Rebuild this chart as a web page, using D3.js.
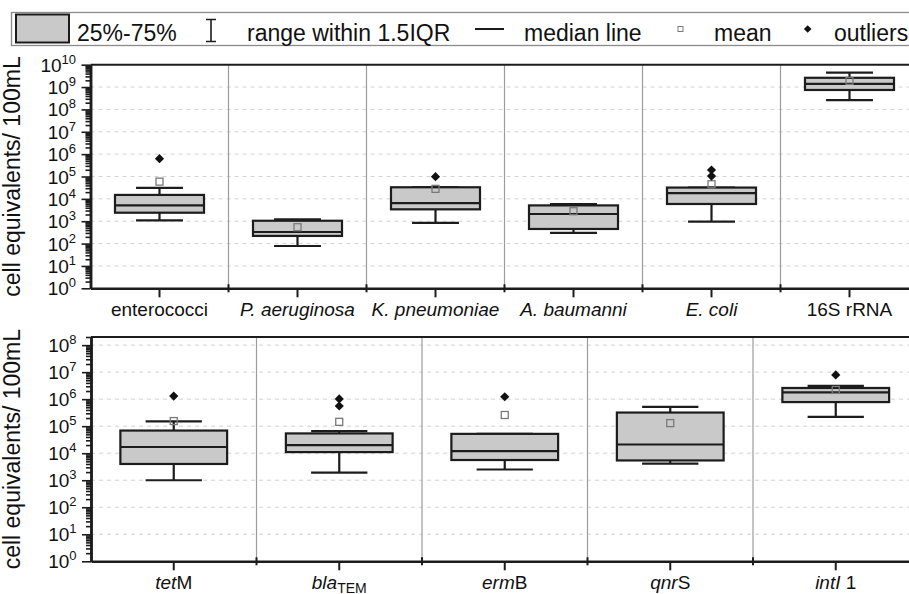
<!DOCTYPE html>
<html>
<head>
<meta charset="utf-8">
<script src="https://cdn.jsdelivr.net/npm/d3@7"></script>
<style>
  body { margin: 0; background: #fff; }
  svg { display: block; font-family: "Liberation Sans", Arial, sans-serif; }
</style>
</head>
<body>
<script>
// ---- data ----
var topCats    = ["enterococci", "P. aeruginosa", "K. pneumoniae", "A. baumanni", "E. coli", "16S rRNA"];
var topItalic  = ["", "P. aeruginosa", "K. pneumoniae", "A. baumanni", "E. coli", ""];
var topWhiskLo = [1.1e3, 78, 850, 300, 950, 2.6e8];
var topQ1      = [2.4e3, 220, 3.4e3, 450, 5.9e3, 7.4e8];
var topMedian  = [5.1e3, 330, 6.5e3, 2.1e3, 1.8e4, 1.4e9];
var topQ3      = [1.5e4, 1.05e3, 3.3e4, 5.1e3, 3.2e4, 2.6e9];
var topWhiskHi = [3.1e4, 1.2e3, 3.3e4, 5.9e3, 3.2e4, 4.4e9];
var topMean    = [5.9e4, 540, 2.8e4, 2.8e3, 4.5e4, 1.9e9];
var topOutliers = [[6.3e5], [], [9.8e4], [], [1.05e5, 1.95e5], []];
var topYMax = 1e10;

var botCats    = ["tetM", "blaTEM", "ermB", "qnrS", "intI 1"];
var botItalic  = ["tet", "bla", "erm", "qnr", "intI"];
var botSub     = ["", "TEM", "", "", ""];
var botWhiskLo = [1.0e3, 1.9e3, 2.5e3, 4.1e3, 2.2e5];
var botQ1      = [4.0e3, 1.1e4, 5.6e3, 5.4e3, 7.8e5];
var botMedian  = [1.7e4, 2.0e4, 1.2e4, 2.1e4, 1.8e6];
var botQ3      = [6.9e4, 5.4e4, 5.2e4, 3.2e5, 2.6e6];
var botWhiskHi = [1.5e5, 6.6e4, 5.2e4, 5.2e5, 3.1e6];
var botMean    = [1.55e5, 1.45e5, 2.6e5, 1.3e5, 2.2e6];
var botOutliers = [[1.3e6], [5.6e5, 1.02e6], [1.23e6], [], [7.9e6]];
var botYMax = 2e8;

var yTitle = "cell equivalents/ 100mL";
var legendItems = ["25%-75%", "range within 1.5IQR", "median line", "mean", "outliers"];

var width = 909, height = 594;
var boxFill = "#c9c9c9", ink = "#1c1c1c";

var svg = d3.select("body").append("svg")
    .attr("width", width)
    .attr("height", height);

drawLegend();

drawPanel({
    cats: topCats, italic: topItalic, sub: null,
    lo: topWhiskLo, q1: topQ1, med: topMedian, q3: topQ3, hi: topWhiskHi,
    mean: topMean, outliers: topOutliers, ymax: topYMax,
    left: 90.5, right: 918.5, top: 64.7, bottom: 288.3
});

drawPanel({
    cats: botCats, italic: botItalic, sub: botSub,
    lo: botWhiskLo, q1: botQ1, med: botMedian, q3: botQ3, hi: botWhiskHi,
    mean: botMean, outliers: botOutliers, ymax: botYMax,
    left: 91, right: 918.5, top: 337, bottom: 561.3
});

function diamond(cx, cy, r) {
    return "M" + cx + "," + (cy - r) + "L" + (cx + r) + "," + cy +
           "L" + cx + "," + (cy + r) + "L" + (cx - r) + "," + cy + "Z";
}

function drawPanel(p) {
    var g = svg.append("g");

    var x = d3.scaleBand()
        .domain(p.cats)
        .range([p.left, p.right])
        .padding(0);

    var y = d3.scaleLog()
        .domain([1, p.ymax])
        .range([p.bottom, p.top]);

    var topExp = Math.floor(Math.log10(p.ymax));
    var decades = d3.range(0, topExp + 1).map(function (e) { return Math.pow(10, e); });
    var minors = [];
    decades.forEach(function (d) {
        for (var k = 2; k <= 9; k++) {
            if (d * k <= p.ymax) minors.push(d * k);
        }
    });

    // dashed grid
    g.selectAll(".grid")
        .data(decades.filter(function (d) { return d > 1 && d < p.ymax; }))
        .enter().append("line")
        .attr("x1", p.left).attr("x2", p.right)
        .attr("y1", function (d) { return y(d); })
        .attr("y2", function (d) { return y(d); })
        .attr("stroke", "#d2d2d2")
        .attr("stroke-width", 1)
        .attr("stroke-dasharray", "4,4");

    // category separators
    var bounds = x.domain().slice(1).map(function (c) { return x(c); });
    g.selectAll(".sep")
        .data(bounds)
        .enter().append("line")
        .attr("x1", function (d) { return d; }).attr("x2", function (d) { return d; })
        .attr("y1", p.top).attr("y2", p.bottom)
        .attr("stroke", "#9c9c9c")
        .attr("stroke-width", 1.2);

    // top frame line
    g.append("line")
        .attr("x1", p.left).attr("x2", p.right)
        .attr("y1", p.top).attr("y2", p.top)
        .attr("stroke", ink).attr("stroke-width", 2);

    // y axis: majors, minors
    var yMajor = g.append("g")
        .attr("transform", "translate(" + p.left + ",0)")
        .call(d3.axisLeft(y).tickValues(decades).tickSize(9).tickSizeOuter(0).tickFormat(""));
    var yMinor = g.append("g")
        .attr("transform", "translate(" + p.left + ",0)")
        .call(d3.axisLeft(y).tickValues(minors).tickSize(5).tickSizeOuter(0).tickFormat(""));
    [yMajor, yMinor].forEach(function (a) {
        a.select(".domain").attr("stroke", ink).attr("stroke-width", 2.5);
        a.selectAll(".tick line").attr("stroke", ink).attr("stroke-width", 1.6);
    });

    var ylab = g.selectAll(".ylab")
        .data(decades)
        .enter().append("text")
        .attr("x", p.left - 14.5)
        .attr("y", function (d) { return y(d) + 7; })
        .attr("text-anchor", "end")
        .attr("font-size", 19)
        .attr("fill", "#111");
    ylab.append("tspan").text("10");
    ylab.append("tspan")
        .attr("dy", -8)
        .attr("font-size", 13)
        .text(function (d) { return Math.round(Math.log10(d)); });

    // y title
    g.append("text")
        .attr("transform", "translate(19.5," + ((p.top + p.bottom) / 2) + ") rotate(-90)")
        .attr("text-anchor", "middle")
        .attr("font-size", 23)
        .attr("fill", "#111")
        .text(yTitle);

    // x axis
    var xAxis = g.append("g")
        .attr("transform", "translate(0," + p.bottom + ")")
        .call(d3.axisBottom(x).tickSize(9).tickSizeOuter(0).tickFormat(""));
    xAxis.select(".domain").attr("stroke", ink).attr("stroke-width", 2.5);
    xAxis.selectAll(".tick line").attr("stroke", ink).attr("stroke-width", 2);

    g.selectAll(".bTick")
        .data(bounds)
        .enter().append("line")
        .attr("x1", function (d) { return d; }).attr("x2", function (d) { return d; })
        .attr("y1", p.bottom - 4).attr("y2", p.bottom + 4)
        .attr("stroke", ink).attr("stroke-width", 2);

    var xlab = g.selectAll(".xlab")
        .data(p.cats)
        .enter().append("text")
        .attr("x", function (d) { return x(d) + x.bandwidth() / 2; })
        .attr("y", p.bottom + 28)
        .attr("text-anchor", "middle")
        .attr("font-size", 19)
        .attr("fill", "#111");
    xlab.each(function (d, i) {
        var t = d3.select(this);
        var it = p.italic[i];
        var rest = it ? d.slice(it.length) : d;
        if (it) t.append("tspan").attr("font-style", "italic").text(it);
        if (rest) {
            var sp = t.append("tspan").text(rest);
            if (p.sub && p.sub[i]) sp.attr("font-size", 14).attr("dy", 4);
        }
    });

    // boxes
    var bw = x.bandwidth();
    var boxW = bw * 0.645, capW = bw * 0.34;
    var boxes = g.selectAll(".box")
        .data(p.cats)
        .enter().append("g")
        .attr("transform", function (d) { return "translate(" + (x(d) + bw / 2) + ",0)"; });

    boxes.append("line")
        .attr("x1", 0).attr("x2", 0)
        .attr("y1", function (d, i) { return y(p.lo[i]); })
        .attr("y2", function (d, i) { return y(p.hi[i]); })
        .attr("stroke", ink).attr("stroke-width", 2.2);
    boxes.append("line")
        .attr("x1", -capW / 2).attr("x2", capW / 2)
        .attr("y1", function (d, i) { return y(p.lo[i]); })
        .attr("y2", function (d, i) { return y(p.lo[i]); })
        .attr("stroke", ink).attr("stroke-width", 2.2);
    boxes.append("line")
        .attr("x1", -capW / 2).attr("x2", capW / 2)
        .attr("y1", function (d, i) { return y(p.hi[i]); })
        .attr("y2", function (d, i) { return y(p.hi[i]); })
        .attr("stroke", ink).attr("stroke-width", 2.2);

    boxes.append("rect")
        .attr("x", -boxW / 2)
        .attr("width", boxW)
        .attr("y", function (d, i) { return y(p.q3[i]); })
        .attr("height", function (d, i) { return y(p.q1[i]) - y(p.q3[i]); })
        .attr("fill", boxFill)
        .attr("stroke", ink).attr("stroke-width", 2.2);

    boxes.append("line")
        .attr("x1", -boxW / 2).attr("x2", boxW / 2)
        .attr("y1", function (d, i) { return y(p.med[i]); })
        .attr("y2", function (d, i) { return y(p.med[i]); })
        .attr("stroke", ink).attr("stroke-width", 2.2);

    boxes.append("rect")
        .attr("x", -3.5).attr("width", 7).attr("height", 7)
        .attr("y", function (d, i) { return y(p.mean[i]) - 3.5; })
        .attr("fill", "none")
        .attr("stroke", "#7a7a7a").attr("stroke-width", 1.3);

    boxes.each(function (d, i) {
        d3.select(this).selectAll(".out")
            .data(p.outliers[i])
            .enter().append("path")
            .attr("d", function (v) { return diamond(0, y(v), 4.6); })
            .attr("fill", "#111");
    });
}

function drawLegend() {
    var g = svg.append("g");
    g.append("rect")
        .attr("x", 11.5).attr("y", 12.5)
        .attr("width", 920).attr("height", 33)
        .attr("fill", "#fff")
        .attr("stroke", "#8a8a8a").attr("stroke-width", 1.3);

    g.append("rect")
        .attr("x", 16).attr("y", 14.5)
        .attr("width", 53).attr("height", 28)
        .attr("fill", boxFill)
        .attr("stroke", ink).attr("stroke-width", 2);

    // whisker icon
    g.append("path")
        .attr("d", "M206,19.5H216M211,19.5V41.5M206,41.5H216")
        .attr("fill", "none").attr("stroke", ink).attr("stroke-width", 1.6);

    // median icon
    g.append("line")
        .attr("x1", 475).attr("x2", 504).attr("y1", 29).attr("y2", 29)
        .attr("stroke", ink).attr("stroke-width", 2);

    // mean icon
    g.append("rect")
        .attr("x", 678).attr("y", 26.5).attr("width", 5).attr("height", 5)
        .attr("fill", "none").attr("stroke", "#7a7a7a").attr("stroke-width", 1);

    // outlier icon
    g.append("path")
        .attr("d", diamond(807.7, 29, 3.8))
        .attr("fill", "#111");

    var textX = [77, 247, 524, 714, 834];
    g.selectAll(".ltext")
        .data(legendItems)
        .enter().append("text")
        .attr("x", function (d, i) { return textX[i]; })
        .attr("y", 40.5)
        .attr("font-size", 23)
        .attr("fill", "#111")
        .text(function (d) { return d; });
}
</script>
</body>
</html>
